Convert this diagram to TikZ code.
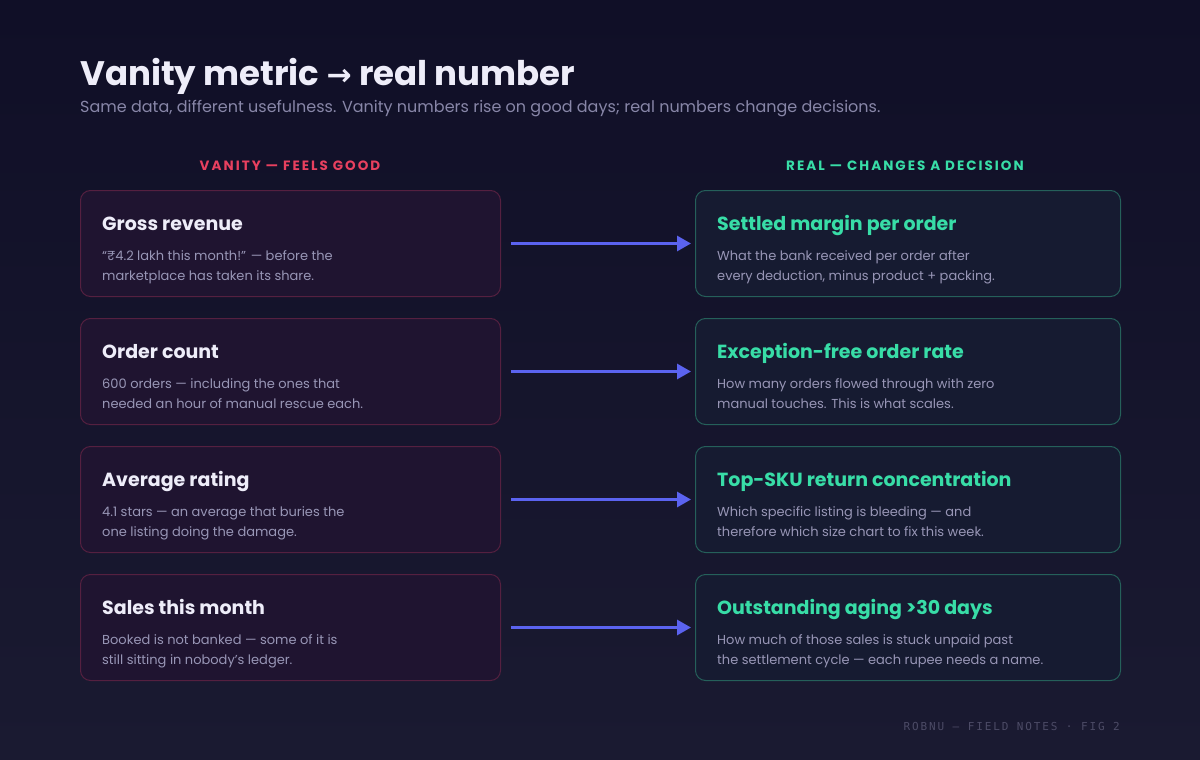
\documentclass[tikz,border=0pt]{standalone}
\usepackage{fontspec}
\usetikzlibrary{arrows.meta}
\setmainfont{Poppins}
\newfontfamily\capsfont[LetterSpace=15]{Poppins}
\newfontfamily\footfont[LetterSpace=17]{DejaVu Sans Mono}
\newfontfamily\symfont{DejaVu Sans}
\definecolor{bgtop}{HTML}{100F27}
\definecolor{bgbot}{HTML}{1A1A31}
\definecolor{titlecol}{HTML}{EEEDF9}
\definecolor{subcol}{HTML}{8886A8}
\definecolor{desccol}{HTML}{9896B6}
\definecolor{vancol}{HTML}{E8405F}
\definecolor{realcol}{HTML}{38DDA7}
\definecolor{vfill}{HTML}{1F1430}
\definecolor{vborder}{HTML}{552040}
\definecolor{rfill}{HTML}{161B31}
\definecolor{rborder}{HTML}{25605A}
\definecolor{arrowcol}{HTML}{5B63F0}
\definecolor{footcol}{HTML}{4C4B66}
\tikzset{
  vbox/.style={draw=vborder, fill=vfill, rounded corners=10pt, line width=1pt, minimum width=420pt, minimum height=106pt, anchor=north west, inner sep=0pt},
  rbox/.style={draw=rborder, fill=rfill, rounded corners=10pt, line width=1pt, minimum width=425pt, minimum height=106pt, anchor=north west, inner sep=0pt},
  vtitle/.style={anchor=base west, inner sep=0pt, text=titlecol, font=\fontsize{19}{22}\selectfont\bfseries},
  rtitle/.style={anchor=base west, inner sep=0pt, text=realcol, font=\fontsize{19}{22}\selectfont\bfseries},
  desc/.style={anchor=base west, inner sep=0pt, text=desccol, font=\fontsize{13}{16}\selectfont},
  arr/.style={draw=arrowcol, line width=3pt, -{Triangle[length=14pt,width=15pt]}},
  header/.style={anchor=base, inner sep=0pt, font=\capsfont\fontsize{13.5}{15}\selectfont\bfseries}
}
\begin{document}
\begin{tikzpicture}[x=1pt,y=-1pt]
\shade[top color=bgtop, bottom color=bgbot] (0,0) rectangle (1200,760);
\useasboundingbox (0,0) rectangle (1200,760);
\node[anchor=base west, inner sep=0pt, text=titlecol, font=\fontsize{34}{38}\selectfont\bfseries] (title) at (80,85) {Vanity metric {\symfont\fontsize{30}{34}\selectfont→} real number};
\node[anchor=base west, inner sep=0pt, text=subcol, font=\fontsize{16}{18}\selectfont] (sub) at (80,113) {Same data, different usefulness. Vanity numbers rise on good days; real numbers change decisions.};
\node[header, text=vancol] (hv) at (290,170) {VANITY — FEELS GOOD};
\node[header, text=realcol] (hr) at (905,170) {REAL — CHANGES A DECISION};

% row 1
\node[vbox] (L1) at (80,190) {};
\node[rbox] (R1) at (695,190) {};
\node[vtitle] (L1t) at (102,230) {Gross revenue};
\node[desc] (L1a) at (102,260) {“₹4.2 lakh this month!” — before the};
\node[desc] (L1b) at (102,280) {marketplace has taken its share.};
\node[rtitle] (R1t) at (717,230) {Settled margin per order};
\node[desc] (R1a) at (717,260) {What the bank received per order after};
\node[desc] (R1b) at (717,280) {every deduction, minus product + packing.};
\draw[arr] ([xshift=10pt]L1.east) -- ([xshift=-4pt]R1.west);

% row 2
\node[vbox] (L2) at (80,318) {};
\node[rbox] (R2) at (695,318) {};
\node[vtitle] (L2t) at (102,358) {Order count};
\node[desc] (L2a) at (102,388) {600 orders — including the ones that};
\node[desc] (L2b) at (102,408) {needed an hour of manual rescue each.};
\node[rtitle] (R2t) at (717,358) {Exception-free order rate};
\node[desc] (R2a) at (717,388) {How many orders flowed through with zero};
\node[desc] (R2b) at (717,408) {manual touches. This is what scales.};
\draw[arr] ([xshift=10pt]L2.east) -- ([xshift=-4pt]R2.west);

% row 3
\node[vbox] (L3) at (80,446) {};
\node[rbox] (R3) at (695,446) {};
\node[vtitle] (L3t) at (102,486) {Average rating};
\node[desc] (L3a) at (102,516) {4.1 stars — an average that buries the};
\node[desc] (L3b) at (102,536) {one listing doing the damage.};
\node[rtitle] (R3t) at (717,486) {Top-SKU return concentration};
\node[desc] (R3a) at (717,516) {Which specific listing is bleeding — and};
\node[desc] (R3b) at (717,536) {therefore which size chart to fix this week.};
\draw[arr] ([xshift=10pt]L3.east) -- ([xshift=-4pt]R3.west);

% row 4
\node[vbox] (L4) at (80,574) {};
\node[rbox] (R4) at (695,574) {};
\node[vtitle] (L4t) at (102,614) {Sales this month};
\node[desc] (L4a) at (102,644) {Booked is not banked — some of it is};
\node[desc] (L4b) at (102,664) {still sitting in nobody’s ledger.};
\node[rtitle] (R4t) at (717,614) {Outstanding aging >30 days};
\node[desc] (R4a) at (717,644) {How much of those sales is stuck unpaid past};
\node[desc] (R4b) at (717,664) {the settlement cycle — each rupee needs a name.};
\draw[arr] ([xshift=10pt]L4.east) -- ([xshift=-4pt]R4.west);

\node[anchor=base east, inner sep=0pt, text=footcol, font=\footfont\fontsize{11}{12}\selectfont] (foot) at (1120,730) {ROBNU — FIELD NOTES · FIG 2};
\end{tikzpicture}
\end{document}
